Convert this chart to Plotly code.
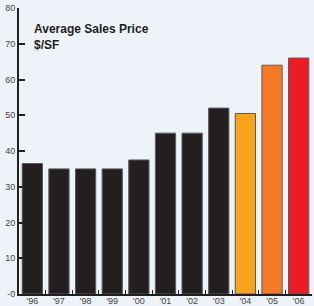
import plotly.graph_objects as go

years = ["'96", "'97", "'98", "'99", "'00", "'01", "'02", "'03", "'04", "'05", "'06"]
prices = [36.5, 35, 35, 35, 37.5, 45, 45, 52, 50.5, 64, 66]
colors = ["#231f20"] * 8 + ["#f8a31c", "#f47a28", "#ec1c24"]
ytick_vals = [0, 10, 20, 30, 40, 50, 60, 70, 80]
ytick_text = ["-0", "10", "20", "30", "40", "50", "60", "70", "80"]

fig = go.Figure(go.Bar(
    x=years, y=prices,
    marker=dict(color=colors, line=dict(color="#5a5a5a", width=1)),
    width=0.76,
))

fig.update_layout(
    width=314, height=306,
    margin=dict(l=19, r=2, t=8, b=12, autoexpand=False),
    paper_bgcolor="#eef2f9", plot_bgcolor="rgba(0,0,0,0)",
    showlegend=False,
    font=dict(family="Liberation Sans, Arial, sans-serif", size=9, color="#444"),
    xaxis=dict(
        showline=True, linecolor="#231f20", linewidth=2,
        ticks="inside", tickson="boundaries", ticklen=4, tickwidth=1, tickcolor="#231f20",
        tickfont=dict(size=9, color="#444"), showgrid=False, automargin=False,
        ticklabelstandoff=-3,
    ),
    yaxis=dict(
        range=[0, 80], showline=True, linecolor="#231f20", linewidth=2,
        tickvals=ytick_vals, ticktext=ytick_text,
        ticks="inside", ticklen=6, tickwidth=2, tickcolor="#231f20",
        tickfont=dict(size=9, color="#444"), showgrid=False, zeroline=False,
        automargin=False,
    ),
    annotations=[dict(
        x=0.043, y=0.957, xref="paper", yref="paper", xanchor="left", yanchor="top",
        text="<b>Average Sales Price<br>$/SF</b>", showarrow=False, align="left",
        font=dict(size=12, color="#231f20", family="Liberation Sans, Arial, sans-serif"),
    )],
    bargap=0.24,
)

fig.write_html("out.html", config={"displayModeBar": False},
               post_script="document.body.style.margin='0';document.body.style.background='#eef2f9';")
